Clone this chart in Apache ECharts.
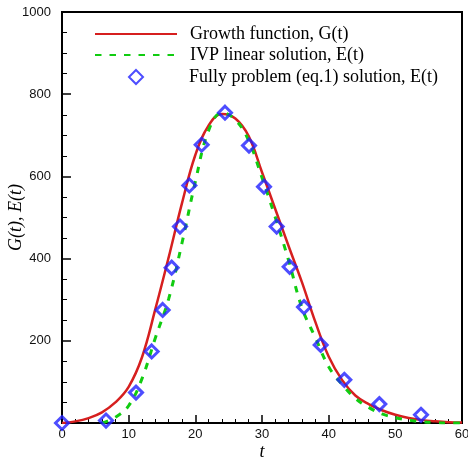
<!DOCTYPE html>
<html>
<head>
<meta charset="utf-8">
<script src="https://cdn.jsdelivr.net/npm/echarts@6/dist/echarts.min.js"></script>
<style>html,body{margin:0;padding:0;background:#fff}#c{width:468px;height:461px}</style>
</head>
<body>
<div id="c"></div>
<script>
// Growth function G(t)
const growthT = [0,2,4,6,8,10,12,14,16,18,20,22,24,26,28,30,32,34,36,38,40,42,44,46,48,50,52,54,56,58,60];
const growthG = [0,4,12,26,50,88,160,277,403,535,652,724,752,741,698,610,520,430,342,246,162,105,67,46,31,20,12,7,4,2,1];
// IVP linear solution E(t)
const ivpT = [6,8,10,12,14,16,18,20,22,24,26,28,30,32,34,36,38,40,42,44,46,48,50,52,54,56,58,60];
const ivpE = [0,14,42,108,207,302,438,587,712,755,738,687,597,500,395,280,208,137,94,60,38,22,13,7,3,1,0,0];
// Fully problem (eq.1) solution E(t)
const fullT = [0,6.6,11.1,13.45,15.1,16.45,17.7,19.1,20.95,24.45,28.05,30.3,32.2,34.15,36.3,38.8,42.35,47.6,53.85];
const fullE = [0,6,74,174,275,378,478,578,677,755,675,575,478,380,282,190,105,46,20];

const xTicks = {min: 0, max: 60, interval: 10};
const yTicks = {min: 0, max: 1000, interval: 200};

const names = ['Growth function, G(t)', 'IVP linear solution, E(t)', 'Fully problem (eq.1) solution, E(t)'];

const zip = (a, b) => a.map((v, i) => [v, b[i]]);
const serif = '"Liberation Serif", "Times New Roman", serif';
const sans = '"Liberation Sans", Arial, sans-serif';

const legendBase = {
  orient: 'vertical', left: 94, padding: 0, itemWidth: 82, itemHeight: 14,
  textStyle: {fontFamily: serif, fontSize: 18, color: '#000', padding: [0, 0, 0, 8]},
  selectedMode: false
};

const chart = echarts.init(document.getElementById('c'), null, {renderer: 'canvas'});
chart.setOption({
  animation: false,
  grid: {left: 62, right: 6, top: 12, bottom: 38, containLabel: false, outerBoundsMode: 'none',
         show: true, borderColor: '#000', borderWidth: 2, backgroundColor: 'transparent'},
  legend: [
    Object.assign({}, legendBase, {top: 25, data: [names[0]], itemStyle: {opacity: 0}}),
    Object.assign({}, legendBase, {top: 46, data: [names[1]], itemStyle: {opacity: 0}}),
    Object.assign({}, legendBase, {top: 68, left: 128, itemWidth: 14, symbolKeepAspect: true,
      textStyle: {fontFamily: serif, fontSize: 18, color: '#000', padding: [0, 0, 0, 41]}, data: [names[2]]})
  ],
  xAxis: {
    type: 'value', min: xTicks.min, max: xTicks.max, interval: xTicks.interval,
    name: 't', nameLocation: 'middle', nameGap: 20, nameMoveOverlap: false,
    nameTextStyle: {fontFamily: serif, fontStyle: 'italic', fontSize: 18, color: '#000'},
    axisLine: {show: true, onZero: false, lineStyle: {color: '#000', width: 2}},
    axisTick: {show: true, inside: true, length: 8, lineStyle: {color: '#000', width: 1.5}},
    minorTick: {show: true, splitNumber: 5, length: 4, lineStyle: {color: '#000', width: 1}},
    axisLabel: {fontFamily: sans, fontSize: 13, color: '#111', margin: 5, formatter: v => String(v)},
    splitLine: {show: false}
  },
  yAxis: {
    type: 'value', min: yTicks.min, max: yTicks.max, interval: yTicks.interval,
    name: 'G(t), E(t)', nameLocation: 'middle', nameGap: 37, nameMoveOverlap: false,
    nameTextStyle: {fontFamily: serif, fontStyle: 'italic', fontSize: 18, color: '#000'},
    axisLine: {show: true, onZero: false, lineStyle: {color: '#000', width: 2}},
    axisTick: {show: true, inside: true, length: 9, lineStyle: {color: '#000', width: 1.5}},
    minorTick: {show: true, splitNumber: 4, length: 5, lineStyle: {color: '#000', width: 1}},
    axisLabel: {fontFamily: sans, fontSize: 13, color: '#111', margin: 11, showMinLabel: false, formatter: v => String(v)},
    splitLine: {show: false}
  },
  series: [
    {
      name: names[0], type: 'line', data: zip(growthT, growthG), smooth: 0.4,
      symbol: 'none', lineStyle: {color: '#d61f1f', width: 2.5}, itemStyle: {color: '#d61f1f'}, z: 2
    },
    {
      name: names[1], type: 'line', data: zip(ivpT, ivpE), smooth: 0.4,
      symbol: 'none', lineStyle: {color: '#11cc11', width: 3, type: [6.5, 8]}, itemStyle: {color: '#11cc11'}, z: 3
    },
    {
      name: names[2], type: 'scatter', data: zip(fullT, fullE), symbol: 'diamond', symbolSize: 13,
      itemStyle: {color: 'rgba(255,255,255,0)', borderColor: '#2020ff', borderWidth: 3}, z: 4
    }
  ]
});
</script>
</body>
</html>
